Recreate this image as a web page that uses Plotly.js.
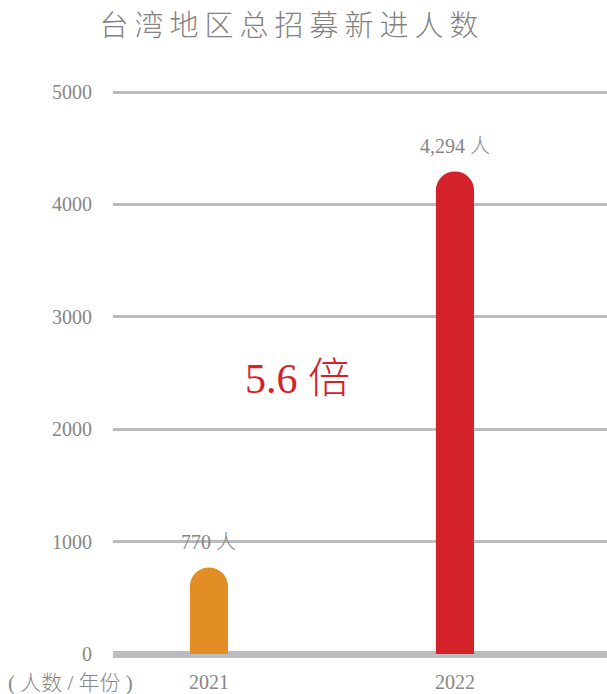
<!DOCTYPE html>
<html>
<head>
<meta charset="utf-8">
<script src="https://cdn.plot.ly/plotly-3.0.1.min.js"></script>
<style>
html,body{margin:0;padding:0;background:#fff;}
#chart{width:607px;height:694px;}
</style>
</head>
<body>
<div id="chart"></div>
<script>
// ---- data ----
const years = ['2021', '2022'];
const values = [770, 4294];
const barColors = ['#E38E25', '#D3222A'];
const yTicks = [0, 1000, 2000, 3000, 4000, 5000];
const titleText = '台湾地区总招募新进人数';
const unitNote = '( 人数 / 年份 )';
const unitSuffix = ' 人';
const ratioSuffix = ' 倍';

const FONT = 'Liberation Serif, Noto Sans CJK SC, serif';
const GRAY = '#868686';

const ratio = (values[1] / values[0]).toFixed(1);

const trace = {
  type: 'bar',
  x: years,
  y: values,
  width: 0.155,
  marker: { color: barColors, cornerradius: '50%' },
  hoverinfo: 'skip'
};

const annotations = years.map((yr, i) => ({
  x: i, y: values[i], xref: 'x', yref: 'y',
  text: values[i].toLocaleString('en-US') + unitSuffix,
  showarrow: false, xanchor: 'center', yanchor: 'bottom', yshift: 12,
  font: { family: FONT, size: 20, color: GRAY, weight: 300 }
}));

annotations.push({
  x: (297 - 113) / 494, y: (660 - 379) / 580, xref: 'paper', yref: 'paper',
  text: ratio + ratioSuffix, showarrow: false,
  xanchor: 'center', yanchor: 'middle',
  font: { family: FONT, size: 42, color: '#D3222A', weight: 300 }
});

annotations.push({
  x: (70 - 113) / 494, y: (660 - 683) / 580, xref: 'paper', yref: 'paper', showarrow: false,
  text: unitNote, xanchor: 'center', yanchor: 'middle',
  font: { family: FONT, size: 21, color: GRAY, weight: 300 }
});

const layout = {
  width: 607, height: 694,
  margin: { l: 113, r: 0, t: 80, b: 34 },
  paper_bgcolor: '#ffffff', plot_bgcolor: '#ffffff',
  showlegend: false,
  title: {
    text: titleText,
    xref: 'container', yref: 'container',
    x: (289 + 3) / 607, y: 1 - 26 / 694, xanchor: 'center', yanchor: 'middle',
    font: { family: 'Noto Sans CJK SC, sans-serif', size: 29, color: '#828282', weight: 300 }
  },
  xaxis: {
    type: 'category', categoryorder: 'array', categoryarray: years,
    range: [-0.39, 1.618],
    showgrid: false, zeroline: false, showline: false,
    ticks: '', ticklabelstandoff: 8,
    tickfont: { family: FONT, size: 20, color: GRAY },
    fixedrange: true
  },
  yaxis: {
    range: [-53.4, 5107],
    tickvals: yTicks, ticktext: yTicks.map(String),
    showgrid: true, gridcolor: '#bbbcc0', gridwidth: 3,
    zeroline: true, zerolinecolor: '#bbbcc0', zerolinewidth: 7,
    showline: false, ticks: '', ticklabelstandoff: 20,
    tickfont: { family: FONT, size: 20, color: GRAY },
    fixedrange: true
  },
  annotations: annotations
};

Plotly.newPlot('chart', [trace], layout, { displayModeBar: false, staticPlot: true }).then(() => {
  const t = document.querySelector('.gtitle');
  if (t) t.style.letterSpacing = '6px';
});
</script>
</body>
</html>
